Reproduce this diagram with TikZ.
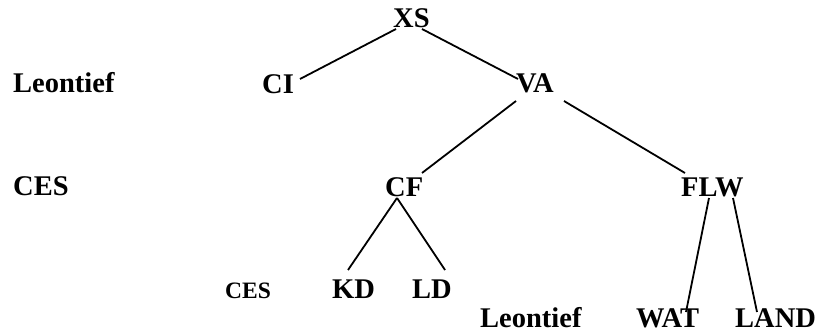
\documentclass[tikz,border=0pt]{standalone}
\usepackage{fontspec}
\setmainfont{Liberation Serif}
\begin{document}
\begin{tikzpicture}[x=1pt,y=-1pt,
  lbl/.style={anchor=base west,inner sep=0pt,font=\fontsize{28.5}{34}\selectfont\bfseries},
  small/.style={anchor=base west,inner sep=0pt,font=\fontsize{23.5}{28}\selectfont\bfseries},
  edge/.style={line width=1.8pt}]
\useasboundingbox (0,0) rectangle (819,334);
% nodes
\node[lbl] (XS) at (393,28) {XS};
\node[lbl] (CI) at (262,94) {CI};
\node[lbl] (L1) at (13,93) {Leontief};
\node[lbl] (VA) at (516,93) {VA};
\node[lbl] (CES1) at (13,195) {CES};
\node[lbl] (CF) at (385,196) {CF};
\node[lbl] (FLW) at (681,196) {FLW};
\node[small] (CES2) at (225,298) {CES};
\node[lbl] (KD) at (332,298) {KD};
\node[lbl] (LD) at (412,298) {LD};
\node[lbl] (L2) at (480,327) {Leontief};
\node[lbl] (WAT) at (636,327) {WAT};
\node[lbl] (LAND) at (735,327) {LAND};
% connector ends
\coordinate (xsl) at (396,29);
\coordinate (xsr) at (422,29);
\coordinate (cit) at (300,79);
\coordinate (vat) at (518,79);
\coordinate (val) at (516,101);
\coordinate (var) at (564,101);
\coordinate (cft) at (422,173);
\coordinate (flwt) at (685,173);
\coordinate (cfb) at (397,198);
\coordinate (kdt) at (348,270);
\coordinate (ldt) at (445,270);
\coordinate (flwl) at (709,198);
\coordinate (flwr) at (733,198);
\coordinate (watt) at (686,312);
\coordinate (landt) at (757,312);
% connectors
\draw[edge] (xsl) -- (cit);
\draw[edge] (xsr) -- (vat);
\draw[edge] (val) -- (cft);
\draw[edge] (var) -- (flwt);
\draw[edge] (cfb) -- (kdt);
\draw[edge] (cfb) -- (ldt);
\draw[edge] (flwl) -- (watt);
\draw[edge] (flwr) -- (landt);
\end{tikzpicture}
\end{document}
